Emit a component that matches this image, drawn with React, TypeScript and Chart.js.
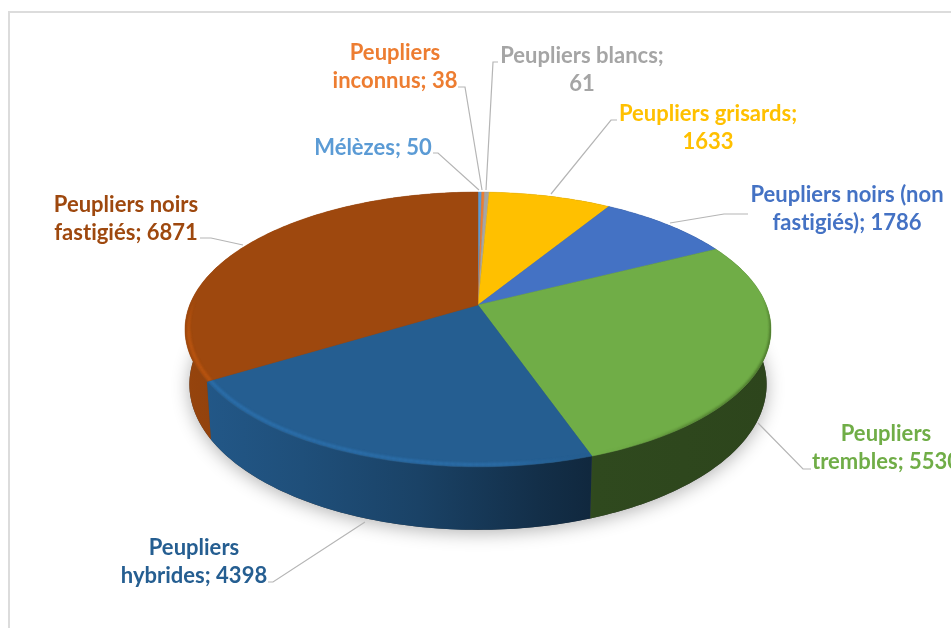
import React, { useEffect, useRef } from "react";
import { Chart, registerables } from "chart.js";

Chart.register(...registerables);

const categories = [
  "Mélèzes",
  "Peupliers inconnus",
  "Peupliers blancs",
  "Peupliers grisards",
  "Peupliers noirs (non fastigiés)",
  "Peupliers trembles",
  "Peupliers hybrides",
  "Peupliers noirs fastigiés",
];
const counts = [50, 38, 61, 1633, 1786, 5530, 4398, 6871];
const colours = ["#5B9BD5", "#ED7D31", "#A5A5A5", "#FFC000", "#4472C4", "#70AD47", "#255E91", "#9E480E"];

// Label layout, in the same order as the categories: text lines and centre x / y of each line.
const labelLines = [
  ["Mélèzes; 50"],
  ["Peupliers", "inconnus; 38"],
  ["Peupliers blancs;", "61"],
  ["Peupliers grisards;", "1633"],
  ["Peupliers noirs (non", "fastigiés); 1786"],
  ["Peupliers", "trembles; 5530"],
  ["Peupliers", "hybrides; 4398"],
  ["Peupliers noirs", "fastigiés; 6871"],
];
const labelAnchors = [
  [373, 148],
  [395, 53],
  [582, 56],
  [708, 114],
  [847, 195],
  [886, 434],
  [194, 548],
  [126, 205],
];
const leaders = [
  [[433, 153], [438, 153], [479, 190]],
  [[458, 87], [465, 87], [482, 190]],
  [[498, 62], [493, 62], [486, 190]],
  [[617, 120], [611, 120], [551, 194]],
  [[748, 214], [724, 214], [670, 223]],
  [[811, 469], [803, 469], [758, 423]],
  [[268, 582], [273, 582], [365, 522]],
  [[200, 238], [211, 238], [243, 245]],
];

// Perspective of the tilted disc
const PERSPECTIVE = 0.178;
const VERTICAL = 0.454;
const WALL_DROP = 53.5;
const WALL_SCALE_X = 0.985;
const WALL_SCALE_Y = 1.059;
const LINE_HEIGHT = 28;
const FRONT_MARGIN = 0.05;
const wallShades = [
  [0, 0.95],
  [0.2, 0.84],
  [0.4, 0.7],
  [0.6, 0.5],
  [0.7, 0.42],
  [1, 0.4],
];

function rgb(hex: string) {
  return [1, 3, 5].map((i) => parseInt(hex.slice(i, i + 2), 16));
}
function shade(hex: string, f: number, a = 1) {
  const [r, g, b] = rgb(hex).map((c) => Math.min(255, Math.round(c * f)));
  return `rgba(${r},${g},${b},${a})`;
}
function clamp01(t: number) {
  return Math.max(0, Math.min(1, t));
}

const disc3d = {
  id: "disc3d",
  beforeDatasetsDraw(chart: any) {
    const ctx: CanvasRenderingContext2D = chart.ctx;
    const arcs = chart.getDatasetMeta(0).data as any[];
    const { x: cx, y: cy, outerRadius: R } = arcs[0];
    const k = R * Math.sqrt(1 - PERSPECTIVE * PERSPECTIVE);
    const A = R * VERTICAL;
    const project = (a: number, f = 1) => {
      const u = Math.cos(a) * f;
      const v = -Math.sin(a) * f;
      const d = 1 + PERSPECTIVE * v;
      return [cx + (k * u) / d, cy - (A * v) / d];
    };
    const lower = (p: number[]) => [cx + (p[0] - cx) * WALL_SCALE_X, cy + WALL_DROP + (p[1] - cy) * WALL_SCALE_Y];
    const sweep = (a0: number, a1: number) => {
      const n = Math.max(2, Math.ceil(((a1 - a0) * 180) / Math.PI));
      const pts: number[][] = [];
      for (let i = 0; i <= n; i++) pts.push(project(a0 + ((a1 - a0) * i) / n));
      return pts;
    };
    const trace = (pts: number[][]) => pts.forEach((p, i) => (i ? ctx.lineTo(p[0], p[1]) : ctx.moveTo(p[0], p[1])));

    // soft shadow under the disc
    ctx.save();
    ctx.shadowColor = "rgba(0,0,0,0.3)";
    ctx.shadowBlur = 18;
    ctx.shadowOffsetY = 3;
    ctx.fillStyle = "#444";
    ctx.beginPath();
    trace(sweep(0, Math.PI * 2).map(lower));
    ctx.closePath();
    ctx.fill();
    ctx.restore();

    const gx0 = cx - R;
    const gx1 = cx + R;
    // walls
    arcs.forEach((arc, i) => {
      const top = sweep(arc.startAngle, arc.endAngle);
      const g = ctx.createLinearGradient(gx0, 0, gx1, 0);
      wallShades.forEach(([s, f]) => g.addColorStop(s, shade(colours[i], f)));
      ctx.fillStyle = g;
      ctx.beginPath();
      trace(top);
      top
        .slice()
        .reverse()
        .map(lower)
        .forEach((p) => ctx.lineTo(p[0], p[1]));
      ctx.closePath();
      ctx.fill();
    });
    // top faces
    arcs.forEach((arc, i) => {
      const top = sweep(arc.startAngle, arc.endAngle);
      const face = () => {
        ctx.beginPath();
        ctx.moveTo(cx, cy);
        top.forEach((p) => ctx.lineTo(p[0], p[1]));
        ctx.closePath();
      };
      ctx.fillStyle = colours[i];
      face();
      ctx.fill();
      ctx.strokeStyle = colours[i];
      ctx.lineWidth = 0.5;
      ctx.stroke();

      // bevel on the front of the rim: lit on the left, shaded on the right
      const from = Math.max(arc.startAngle, -FRONT_MARGIN);
      const to = Math.min(arc.endAngle, Math.PI + FRONT_MARGIN);
      if (to <= from) return;
      ctx.save();
      face();
      ctx.clip();
      const g = ctx.createLinearGradient(gx0, 0, gx1, 0);
      g.addColorStop(0, shade(colours[i], 1.22, 1));
      g.addColorStop(0.55, shade(colours[i], 1.22, 0.7));
      g.addColorStop(0.7, shade(colours[i], 1, 0));
      g.addColorStop(0.85, "rgba(30,50,10,0.3)");
      g.addColorStop(1, "rgba(30,50,10,0.5)");
      ctx.filter = "blur(1.2px)";
      ctx.strokeStyle = g;
      const n = Math.max(2, Math.ceil(((to - from) * 180) / Math.PI));
      const rimPoint = (a: number) => {
        // inset on the lit side, right on the edge on the shaded side
        return project(a, 0.988 + 0.012 * clamp01((Math.cos(a) - 0.1) / 0.3));
      };
      for (let j = 0; j < n; j++) {
        const a0 = from + ((to - from) * j) / n;
        const a1 = from + ((to - from) * (j + 1)) / n;
        const w = 3 * clamp01((Math.sin(a1) + FRONT_MARGIN) / 0.25);
        if (w <= 0.05) continue;
        const p0 = rimPoint(a0);
        const p1 = rimPoint(a1);
        ctx.lineWidth = w;
        ctx.beginPath();
        ctx.moveTo(p0[0], p0[1]);
        ctx.lineTo(p1[0], p1[1]);
        ctx.stroke();
      }
      ctx.restore();
    });
    return false;
  },
  afterDraw(chart: any) {
    const ctx: CanvasRenderingContext2D = chart.ctx;
    ctx.save();
    // frame of the picture
    ctx.fillStyle = "#dcdcdc";
    ctx.fillRect(8, 11, 943, 2);
    ctx.fillRect(8, 11, 2, 617);
    // leader lines
    ctx.strokeStyle = "#b5b5b5";
    ctx.lineWidth = 1.2;
    leaders.forEach((pts) => {
      ctx.beginPath();
      pts.forEach((p, i) => (i ? ctx.lineTo(p[0], p[1]) : ctx.moveTo(p[0], p[1])));
      ctx.stroke();
    });
    // labels
    ctx.font = 'bold 22px Lato, "Open Sans", sans-serif';
    (ctx as any).letterSpacing = "0.01px";
    ctx.textAlign = "center";
    ctx.textBaseline = "middle";
    labelLines.forEach((lines, i) => {
      ctx.fillStyle = colours[i];
      lines.forEach((t, j) => ctx.fillText(t, labelAnchors[i][0], labelAnchors[i][1] + j * LINE_HEIGHT));
    });
    ctx.restore();
  },
};

export default function App() {
  const ref = useRef<HTMLCanvasElement>(null);
  useEffect(() => {
    const chart = new Chart(ref.current!, {
      type: "pie",
      data: {
        labels: categories,
        datasets: [{ data: counts, backgroundColor: colours, borderWidth: 0 }],
      },
      options: {
        responsive: false,
        animation: false,
        layout: { padding: { left: 5, right: 0, top: 12, bottom: 30 } },
        plugins: { legend: { display: false }, tooltip: { enabled: false } },
      },
      plugins: [disc3d],
    } as any);
    return () => chart.destroy();
  }, []);
  return (
    <div style={{ position: "fixed", left: 0, top: 0, width: 951, height: 628, overflow: "hidden", background: "#fff" }}>
      <canvas ref={ref} width={951} height={628} style={{ display: "block" }} />
    </div>
  );
}
